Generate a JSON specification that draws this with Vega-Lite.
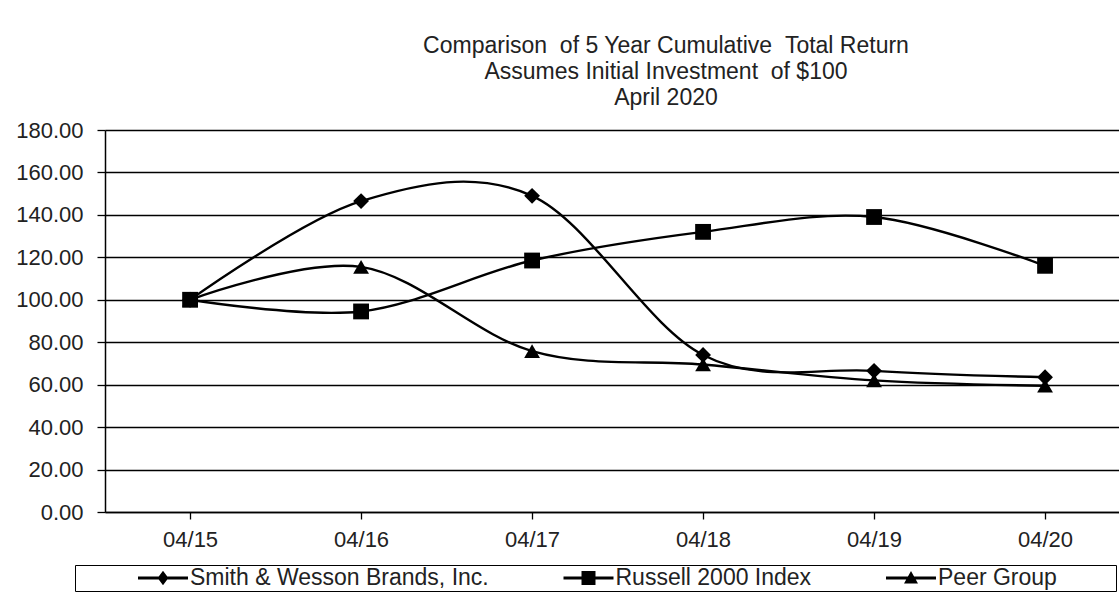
{
  "$schema": "https://vega.github.io/schema/vega-lite/v6.json",
  "autosize": "none",
  "width": 1014,
  "height": 382,
  "padding": {"left": 105, "top": 130, "right": 0, "bottom": 90},
  "background": "white",
  "title": {
    "text": ["Comparison \u00a0of 5 Year Cumulative \u00a0Total Return", "Assumes Initial Investment \u00a0of $100", "April 2020"],
    "font": "Liberation Sans",
    "fontSize": 23,
    "fontWeight": "normal",
    "color": "#222222",
    "lineHeight": 26,
    "anchor": "middle",
    "frame": "group",
    "dx": 54,
    "offset": 9.5
  },
  "data": {
    "values": [
      {"period": "04/15", "series": "Smith & Wesson Brands, Inc.", "value": 100},
      {"period": "04/16", "series": "Smith & Wesson Brands, Inc.", "value": 146.5},
      {"period": "04/17", "series": "Smith & Wesson Brands, Inc.", "value": 149},
      {"period": "04/18", "series": "Smith & Wesson Brands, Inc.", "value": 74},
      {"period": "04/19", "series": "Smith & Wesson Brands, Inc.", "value": 66.5},
      {"period": "04/20", "series": "Smith & Wesson Brands, Inc.", "value": 63.5},
      {"period": "04/15", "series": "Russell 2000 Index", "value": 100},
      {"period": "04/16", "series": "Russell 2000 Index", "value": 94.5},
      {"period": "04/17", "series": "Russell 2000 Index", "value": 118.5},
      {"period": "04/18", "series": "Russell 2000 Index", "value": 132},
      {"period": "04/19", "series": "Russell 2000 Index", "value": 139},
      {"period": "04/20", "series": "Russell 2000 Index", "value": 116},
      {"period": "04/15", "series": "Peer Group", "value": 100},
      {"period": "04/16", "series": "Peer Group", "value": 115.5},
      {"period": "04/17", "series": "Peer Group", "value": 75.8},
      {"period": "04/18", "series": "Peer Group", "value": 69.5},
      {"period": "04/19", "series": "Peer Group", "value": 62},
      {"period": "04/20", "series": "Peer Group", "value": 59.5}
    ]
  },
  "encoding": {
    "x": {
      "field": "period",
      "type": "ordinal",
      "sort": null,
      "scale": {"type": "point", "padding": 0.465, "align": 0.535},
      "axis": {
        "title": null,
        "labelAngle": 0,
        "labelFontSize": 22,
        "labelColor": "#222222",
        "labelPadding": 10,
        "tickSize": 7,
        "tickColor": "#000000",
        "tickWidth": 1.3,
        "domainColor": "#000000",
        "domainWidth": 1.5,
        "grid": false
      }
    },
    "y": {
      "field": "value",
      "type": "quantitative",
      "scale": {"domain": [0, 180], "nice": false, "zero": true},
      "axis": {
        "title": null,
        "values": [0, 20, 40, 60, 80, 100, 120, 140, 160, 180],
        "format": ".2f",
        "labelFontSize": 22,
        "labelColor": "#222222",
        "labelPadding": 14,
        "tickSize": 8,
        "tickColor": "#000000",
        "tickWidth": 1.3,
        "domainColor": "#000000",
        "domainWidth": 1.5,
        "grid": true,
        "gridColor": "#000000",
        "gridWidth": 1.3,
        "gridOpacity": 1
      }
    }
  },
  "layer": [
    {
      "mark": {"type": "line", "interpolate": "cardinal", "color": "#000000", "strokeWidth": 2.4},
      "encoding": {"detail": {"field": "series"}}
    },
    {
      "mark": {"type": "point", "filled": true, "color": "#000000", "opacity": 1, "size": 250},
      "encoding": {
        "shape": {
          "field": "series",
          "type": "nominal",
          "sort": null,
          "scale": {
            "domain": ["Smith & Wesson Brands, Inc.", "Russell 2000 Index", "Peer Group"],
            "range": ["diamond", "square", "triangle-up"]
          },
          "legend": null
        }
      }
    },
    {
      "transform": [{"filter": "false"}],
      "mark": {"type": "point", "filled": true, "color": "#000000", "opacity": 1},
      "encoding": {
        "shape": {
          "field": "series",
          "type": "nominal",
          "sort": null,
          "scale": {
            "domain": ["Smith & Wesson Brands, Inc.", "Russell 2000 Index", "Peer Group"],
            "range": [
              "M-0.926,-0.056L0.926,-0.056L0.926,0.056L-0.926,0.056Z M0,-0.27L0.2,0L0,0.27L-0.2,0Z",
              "M-0.926,-0.056L0.926,-0.056L0.926,0.056L-0.926,0.056Z M-0.259,-0.259L0.259,-0.259L0.259,0.259L-0.259,0.259Z",
              "M-0.926,-0.056L0.926,-0.056L0.926,0.056L-0.926,0.056Z M0,-0.259L0.259,0.204L-0.259,0.204Z"
            ]
          },
          "legend": {
            "orient": "none",
            "legendX": -30,
            "legendY": 435,
            "direction": "horizontal",
            "columns": 3,
            "columnPadding": 12.5,
            "title": null,
            "labelFont": "Liberation Sans",
            "labelFontSize": 23,
            "labelColor": "#222222",
            "labelOffset": 0,
            "labelLimit": 0,
            "labelExpr": "datum.label == 'Peer Group' ? datum.label + '\u00a0\u00a0\u00a0\u00a0\u00a0\u00a0\u00a0\u00a0\u00a0\u200b' : datum.label",
            "symbolSize": 2916,
            "symbolOffset": 60,
            "symbolStrokeWidth": 0,
            "symbolFillColor": "#000000",
            "clipHeight": 24,
            "padding": 1,
            "strokeColor": "#000000"
          }
        }
      }
    }
  ],
  "resolve": {"scale": {"shape": "independent"}, "legend": {"shape": "independent"}},
  "config": {
    "font": "Liberation Sans",
    "view": {"stroke": null},
    "axis": {"labelFont": "Liberation Sans"}
  }
}
